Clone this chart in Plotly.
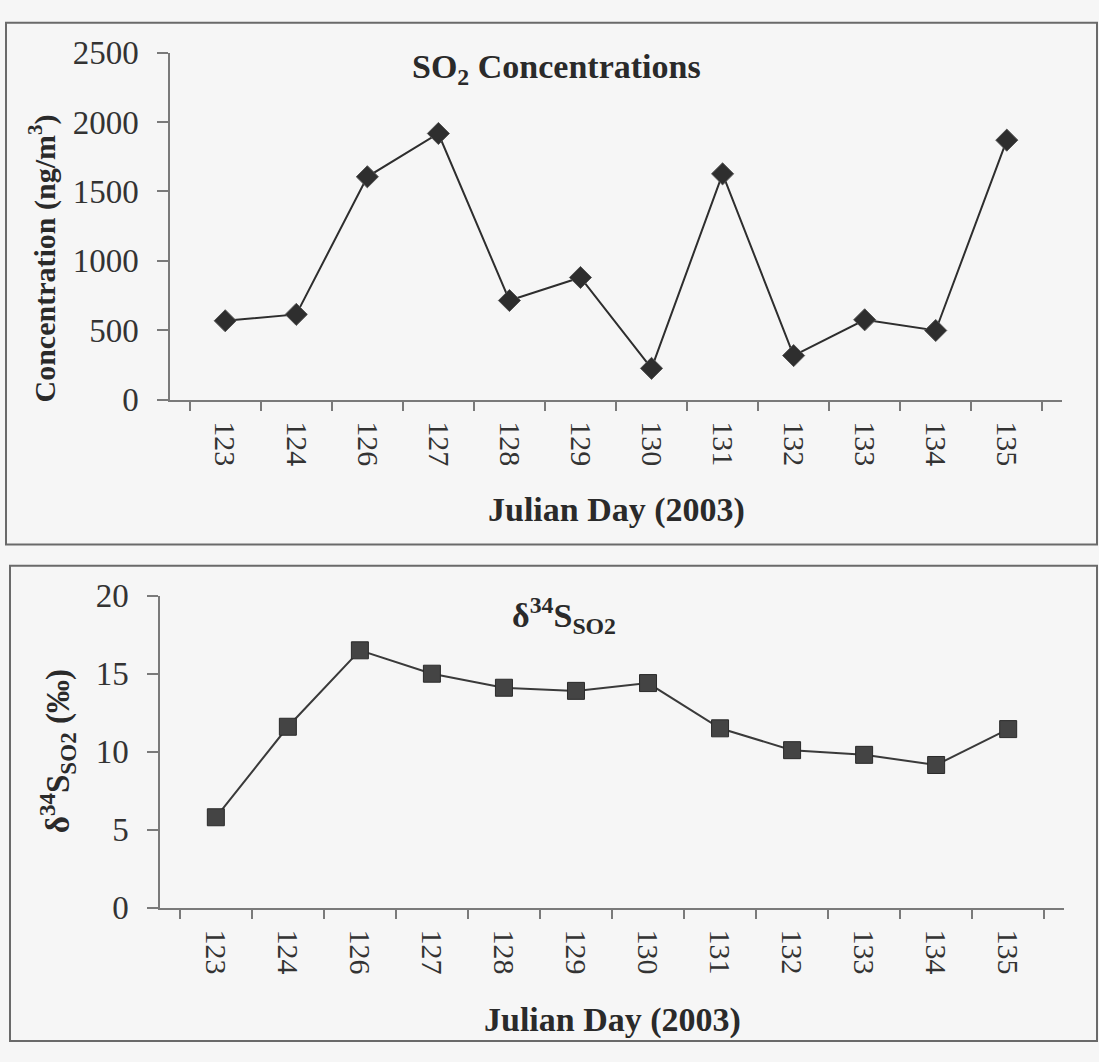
import plotly.graph_objects as go

days = ["123", "124", "126", "127", "128", "129", "130", "131", "132", "133", "134", "135"]
so2_conc = [568, 614, 1606, 1918, 714, 880, 225, 1627, 317, 575, 498, 1870]
d34s = [5.8, 11.6, 16.5, 15.0, 14.1, 13.9, 14.4, 11.5, 10.1, 9.8, 9.15, 11.45]

W, H = 1099, 1062
FONT = "Liberation Serif"
BG = "#f6f6f6"

fig = go.Figure()
fig.add_trace(go.Scatter(x=days, y=so2_conc, mode="lines+markers", xaxis="x", yaxis="y",
                         line=dict(color="#2e2e2e", width=2),
                         marker=dict(symbol="diamond", size=17, color="#2e2e2e",
                                     line=dict(color="#555", width=1)),
                         showlegend=False))
fig.add_trace(go.Scatter(x=days, y=d34s, mode="lines+markers", xaxis="x2", yaxis="y2",
                         line=dict(color="#3a3a3a", width=2),
                         marker=dict(symbol="square", size=17, color="#444",
                                     line=dict(color="#2a2a2a", width=1)),
                         showlegend=False))

def px(v): return v / W
def py(v): return 1 - v / H

axis_common = dict(showgrid=False, zeroline=False, showline=True, linecolor="#7a7a7a",
                   linewidth=1.5, ticks="outside", tickcolor="#7a7a7a", tickwidth=1.5)

XT = dict(family=FONT, size=30, color="#333")
YT = dict(family=FONT, size=33, color="#333")

def ann(text, x, y, size=34, angle=0):
    return dict(text=text, xref="paper", yref="paper", x=px(x), y=py(y),
                xanchor="center", yanchor="middle", showarrow=False, textangle=angle,
                font=dict(family=FONT, size=size, color="#2a2a2a"))

fig.update_layout(
    width=W, height=H, margin=dict(l=0, r=0, t=0, b=0),
    paper_bgcolor=BG, plot_bgcolor=BG,
    font=dict(family=FONT, color="#2a2a2a"),
    xaxis=dict(domain=[px(170), px(1062)], anchor="y", type="category",
               tickson="boundaries", ticklen=10, tickangle=90, tickfont=XT,
               ticklabelstandoff=14, **axis_common),
    yaxis=dict(domain=[py(396), py(37)], anchor="x", range=[0, 2500], dtick=500, ticklen=11,
               tickfont=YT, ticklabelstandoff=12, **axis_common),
    xaxis2=dict(domain=[px(160), px(1064)], anchor="y2", type="category",
                tickson="boundaries", ticklen=10, tickangle=90, tickfont=XT,
                ticklabelstandoff=14, **axis_common),
    yaxis2=dict(domain=[py(922), py(599)], anchor="x2", range=[0, 20], dtick=5, ticklen=11,
                tickfont=YT, ticklabelstandoff=12, **axis_common),
    shapes=[
        dict(type="rect", xref="paper", yref="paper", x0=px(6), x1=px(1097), y0=py(546), y1=py(6),
             line=dict(color="#6a6a6a", width=2), fillcolor="rgba(0,0,0,0)", layer="below"),
        dict(type="rect", xref="paper", yref="paper", x0=px(10), x1=px(1097), y0=py(1060), y1=py(568),
             line=dict(color="#6a6a6a", width=2), fillcolor="rgba(0,0,0,0)", layer="below"),
    ],
    annotations=[
        ann("<b>SO<sub>2</sub> Concentrations</b>", 556, 54),
        ann("<b>Julian Day (2003)</b>", 616, 510),
        ann("<b>Concentration (ng/m<sup>3</sup>)</b>", 43, 250, size=30, angle=-90),
        ann("<b>δ<sup>34</sup>S<sub>SO2</sub></b>", 564, 620),
        ann("<b>Julian Day (2003)</b>", 612, 1038),
        ann("<b>δ<sup>34</sup>S<sub>SO2</sub> (‰)</b>", 57, 760, size=33, angle=-90),
    ],
)

fig.write_html("out.html", config={"displayModeBar": False},
               post_script="document.documentElement.style.background='" + BG + "';"
                           "document.body.style.margin='0';document.body.style.overflow='hidden';"
                           "document.body.style.background='" + BG + "';")
